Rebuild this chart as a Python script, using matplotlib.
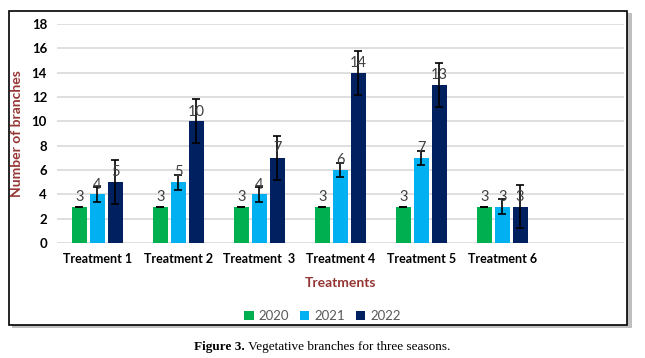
import matplotlib
matplotlib.use('Agg')
import matplotlib.pyplot as plt
from matplotlib.patches import Rectangle
import numpy as np

plt.rcParams['font.family'] = ['Lato', 'DejaVu Sans']

treatments = ['Treatment 1', 'Treatment 2', 'Treatment  3', 'Treatment 4', 'Treatment 5', 'Treatment 6']
seasons = ['2020', '2021', '2022']
values_2020 = [3, 3, 3, 3, 3, 3]
values_2021 = [4, 5, 4, 6, 7, 3]
values_2022 = [5, 10, 7, 14, 13, 3]
err_2020 = [0, 0, 0, 0, 0, 0]
err_2021 = [0.6, 0.6, 0.6, 0.6, 0.6, 0.6]
err_2022 = [1.8, 1.8, 1.8, 1.8, 1.8, 1.8]
colors = ['#00B050', '#00B0F0', '#002060']

series = [values_2020, values_2021, values_2022]
errors = [err_2020, err_2021, err_2022]

fig = plt.figure(figsize=(6.45, 3.58), dpi=100)
ax = fig.add_axes([0.088, 0.321, 0.879, 0.612])

x = np.arange(len(treatments))
width = 0.185
offsets = [-0.22, 0, 0.22]
for vals, errs, col, off, lab in zip(series, errors, colors, offsets, seasons):
    ax.bar(x + off, vals, width, color=col, label=lab, zorder=2)
    ax.errorbar(x + off, vals, yerr=errs, fmt='none', ecolor='black',
                elinewidth=1.2, capsize=3, capthick=1.2, zorder=3)
    for xi, v in zip(x + off, vals):
        ax.annotate(str(v), (xi, v), xytext=(0, 2), textcoords='offset points',
                    ha='center', va='bottom', fontsize=10.5, color='#404040', zorder=4)

ax.set_xlim(-0.5, 6.5)
ax.set_ylim(0, 18)
ax.set_yticks(range(0, 19, 2))
ax.set_xticks(x)
ax.set_xticklabels(treatments, fontsize=9, fontweight='bold')
for t in ax.get_yticklabels():
    t.set_fontweight('bold')
    t.set_fontsize(9.5)
ax.tick_params(length=0, pad=7)
ax.grid(axis='y', color='#D9D9D9', linewidth=1.2, zorder=0)
for s in ax.spines.values():
    s.set_visible(False)

ax.set_ylabel('Number of branches', fontsize=10, fontweight='bold', color='#943634', labelpad=6)
ax.set_xlabel('Treatments', fontsize=10, fontweight='bold', color='#943634', labelpad=9)

handles, labels = ax.get_legend_handles_labels()
fig.legend(handles, labels, loc='center', bbox_to_anchor=(0.5, 0.117), ncol=3, frameon=False,
           fontsize=9.5, labelcolor='#595959', handlelength=0.7, handleheight=0.7,
           handletextpad=0.4, columnspacing=0.8)

# outer chart box with shadow
fig.patches.append(Rectangle((0.018, 0.085), 0.962, 0.878, transform=fig.transFigure,
                             facecolor='#BFBFBF', edgecolor='none', zorder=-2))
fig.patches.append(Rectangle((0.014, 0.092), 0.958, 0.877, transform=fig.transFigure,
                             facecolor='white', edgecolor='black', linewidth=1.2, zorder=-1))

# caption: bold part + regular part, centred together
renderer = fig.canvas.get_renderer()
t1 = fig.text(0, 0.031, 'Figure 3.', ha='left', va='center', fontsize=9.5,
              family='Liberation Serif', fontweight='bold')
t2 = fig.text(0, 0.031, ' Vegetative branches for three seasons.', ha='left', va='center',
              fontsize=9.5, family='Liberation Serif')
w1 = t1.get_window_extent(renderer).width / fig.bbox.width
w2 = t2.get_window_extent(renderer).width / fig.bbox.width
start = 0.5 - (w1 + w2) / 2
t1.set_x(start)
t2.set_x(start + w1)

fig.savefig('out.png', dpi=100)
